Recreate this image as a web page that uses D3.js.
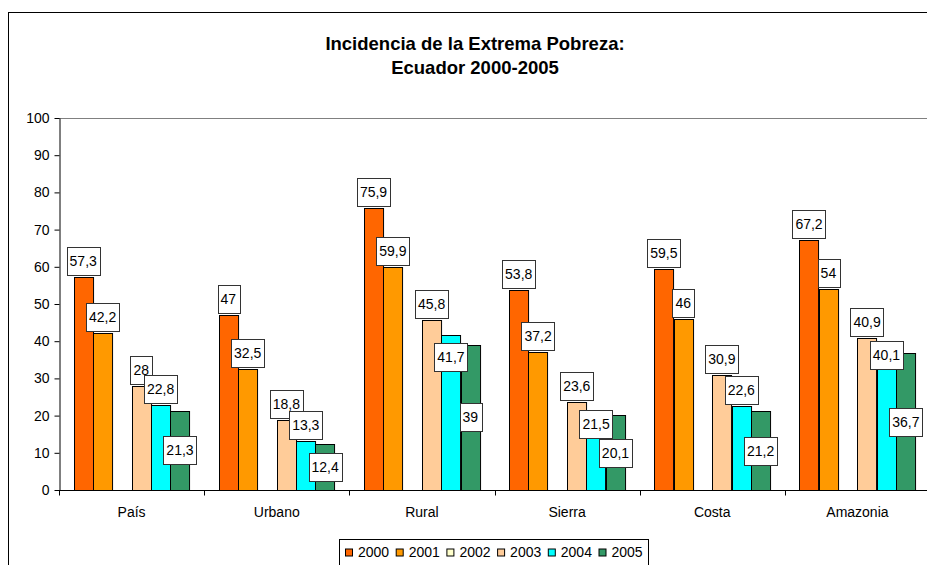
<!DOCTYPE html>
<html>
<head>
<meta charset="utf-8">
<script src="https://cdn.jsdelivr.net/npm/d3@7"></script>
<style>
  body { margin: 0; background: #fff; }
  svg { display: block; font-family: "Liberation Sans", Arial, sans-serif; }
</style>
</head>
<body>
<div id="chart"></div>
<script>
// data (2002 has no values)
const categories = ["País", "Urbano", "Rural", "Sierra", "Costa", "Amazonia"];
const years = ["2000", "2001", "2002", "2003", "2004", "2005"];
const v2000 = [57.3, 47, 75.9, 53.8, 59.5, 67.2];
const v2001 = [42.2, 32.5, 59.9, 37.2, 46, 54];
const v2002 = [null, null, null, null, null, null];
const v2003 = [28, 18.8, 45.8, 23.6, 30.9, 40.9];
const v2004 = [22.8, 13.3, 41.7, 21.5, 22.6, 40.1];
const v2005 = [21.3, 12.4, 39, 20.1, 21.2, 36.7];
const yTicks = [0, 10, 20, 30, 40, 50, 60, 70, 80, 90, 100];

const series = [v2000, v2001, v2002, v2003, v2004, v2005];
const colors = ["#FF6600", "#FF9900", "#FFFFCC", "#FFCC99", "#00FFFF", "#339966"];

const W = 927, H = 565;
const plot = {left: 59, right: 930, top: 118, bottom: 490};

const svg = d3.select("#chart").append("svg").attr("width", W).attr("height", H);

// chart area border
svg.append("rect").attr("x", 8.5).attr("y", 12.5).attr("width", 934).attr("height", 600)
  .attr("fill", "#fff").attr("stroke", "#000");

// title
const title = svg.append("text").attr("text-anchor", "middle").attr("font-weight", "bold")
  .attr("font-size", 18.5).attr("fill", "#000");
title.append("tspan").attr("x", 475).attr("y", 50).text("Incidencia de la Extrema Pobreza:");
title.append("tspan").attr("x", 475).attr("y", 73.5).text("Ecuador 2000-2005");

const x0 = d3.scaleBand().domain(categories).range([plot.left, plot.right]);
const x1 = d3.scaleBand().domain(years).range([0, x0.bandwidth()]).paddingInner(0).paddingOuter(0.75);
const y = d3.scaleLinear().domain([0, 100]).range([plot.bottom, plot.top]);

// plot area top border
svg.append("line").attr("x1", plot.left).attr("x2", W).attr("y1", plot.top + 0.5).attr("y2", plot.top + 0.5)
  .attr("stroke", "#808080");

// bars
const rows = [];
series.forEach((vals, si) => vals.forEach((v, ci) => {
  if (v != null) rows.push({cat: categories[ci], year: years[si], si: si, value: v});
}));

svg.append("g").selectAll("rect").data(rows).join("rect")
  .attr("x", d => Math.round(x0(d.cat) + x1(d.year)) + 0.5)
  .attr("y", d => Math.round(y(d.value)) + 0.5)
  .attr("width", x1.bandwidth() - 0.3)
  .attr("height", d => Math.round(y(0)) - Math.round(y(d.value)))
  .attr("fill", d => colors[d.si])
  .attr("stroke", "#000").attr("stroke-width", 1);

// y axis
const yAxis = svg.append("g").attr("transform", `translate(${plot.left + 0.5},0)`)
  .call(d3.axisLeft(y).tickValues(yTicks).tickSize(5).tickSizeOuter(0).tickPadding(5));
yAxis.selectAll("text").attr("font-size", 14).attr("font-family", null).attr("fill", "#000");
yAxis.selectAll("line,path").attr("stroke", "#000");

// x axis: line + ticks at category boundaries
const xAxis = svg.append("g").attr("transform", `translate(0,${plot.bottom + 0.5})`)
  .call(d3.axisBottom(x0).tickSize(0).tickPadding(16.5));
xAxis.select("path").attr("d", `M${plot.left},0H${W}`).attr("stroke", "#000");
xAxis.selectAll("text").attr("font-size", 14).attr("font-family", null).attr("fill", "#000");
const bounds = categories.map(c => x0(c)).concat([plot.right]);
xAxis.selectAll("line.bound").data(bounds).join("line").attr("class", "bound")
  .attr("x1", d => Math.round(d) + 0.5).attr("x2", d => Math.round(d) + 0.5)
  .attr("y1", 0).attr("y2", 5).attr("stroke", "#000");

// data labels (2005 centred in the bar, a few 2004 labels dragged down as in the original)
const fmt = v => String(v).replace(".", ",");
const labelTopShift = {"Rural|2004": 8, "Sierra|2004": 0, "Amazonia|2004": 0};
const labels = svg.append("g").selectAll("g").data(rows).join("g");
labels.each(function(d) {
  const g = d3.select(this);
  const t = g.append("text").attr("font-size", 14).attr("text-anchor", "middle").attr("fill", "#000").text(fmt(d.value));
  const w = t.node().getComputedTextLength() + 6, h = 28;
  const cx = x0(d.cat) + x1(d.year) + x1.bandwidth() / 2;
  const top = y(d.value);
  let by;
  const key = d.cat + "|" + d.year;
  if (d.year === "2005") by = (top + y(0)) / 2 - h / 2;
  else if (key in labelTopShift) by = top + labelTopShift[key];
  else by = top - 2 - h;
  g.insert("rect", "text").attr("x", Math.round(cx - w / 2) + 0.5).attr("y", Math.round(by) + 0.5)
    .attr("width", Math.round(w)).attr("height", h).attr("fill", "#fff").attr("stroke", "#333");
  t.attr("x", cx).attr("y", by + h / 2 + 5);
});

// legend
const lg = svg.append("g").attr("transform", "translate(339.5,539.5)");
lg.append("rect").attr("width", 309).attr("height", 40).attr("fill", "#fff").attr("stroke", "#000");
const item = lg.selectAll("g").data(years).join("g").attr("transform", (d, i) => `translate(${6 + i * 50.7},0)`);
item.append("rect").attr("x", 0).attr("y", 9.5).attr("width", 7).attr("height", 7)
  .attr("fill", (d, i) => colors[i]).attr("stroke", "#000");
item.append("text").attr("x", 12.5).attr("y", 17).attr("font-size", 14).attr("fill", "#000").text(d => d);
</script>
</body>
</html>
